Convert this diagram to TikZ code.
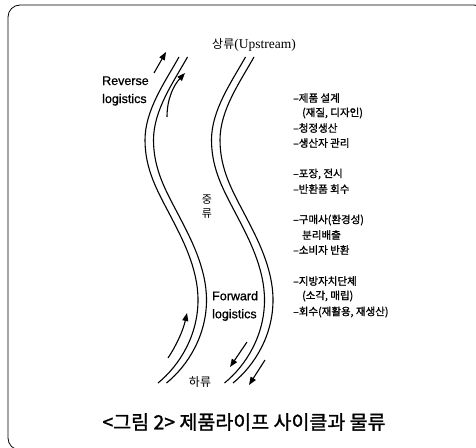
\documentclass[tikz,border=0pt]{standalone}
\usepackage{fontspec}
\setmainfont{Liberation Serif}
\newfontfamily\kr{Noto Sans CJK KR}
\newfontfamily\krm{Noto Sans CJK KR}[FakeBold=1.2]
\newfontfamily\krb{Noto Sans CJK KR}[FakeBold=1.3]
\newfontfamily\arialf{Liberation Sans}[FakeBold=0.8]
\usetikzlibrary{arrows.meta}
\begin{document}
\begin{tikzpicture}[x=1pt,y=-1pt,
  river/.style={line width=1.1pt},
  flow/.style={line width=1.1pt,-{Triangle[length=8pt,width=6pt]}},
  lab/.style={inner sep=0pt,font=\arialf\fontsize{12.5}{18}\selectfont,align=left},
  item/.style={inner sep=0pt,anchor=west,font=\krm\fontsize{10.5}{12}\selectfont}]
\useasboundingbox (0,0) rectangle (476,447);
\fill[white] (0,0) rectangle (476,447);
\draw[line width=0.8pt, rounded corners=12pt] (8,5) rectangle (486,450);
% river lines
\foreach \s in {0,8.5,66.5,75}{
  \begin{scope}[shift={(\s,0)}]
  \draw[river] (179,57) .. controls (165,82) and (145,110) .. (145,140)
     .. controls (145,170) and (158,192) .. (170,215)
     .. controls (182,238) and (198,268) .. (198,300)
     .. controls (198,335) and (180,365) .. (158,383);
  \end{scope}}
% arrow end points
\coordinate (a1s) at (154,73); \coordinate (a1e) at (166,52);
\coordinate (a2s) at (167,117); \coordinate (a2e) at (185,73);
\coordinate (a3s) at (168,358); \coordinate (a3e) at (187,313);
\coordinate (a4s) at (247,342); \coordinate (a4e) at (230,367);
\coordinate (a5s) at (265,360); \coordinate (a5e) at (249,385);
\draw[flow] (a1s) -- (a1e);
\draw[flow] (a2s) .. controls (167,98) and (174,85) .. (a2e);
\draw[flow] (a3s) .. controls (176,346) and (183,331) .. (a3e);
\draw[flow] (a4s) -- (a4e);
\draw[flow] (a5s) -- (a5e);
% labels
\node[inner sep=0pt] (up) at (254,45) {{\kr\fontsize{12}{14}\selectfont 상류}\fontsize{13.5}{15}\selectfont(Upstream)};
\node[lab,anchor=west] (rev) at (102,91) {Reverse\\logistics};
\node[lab,anchor=west] (fwd) at (212,306) {Forward\\logistics};
\node[inner sep=0pt,font=\kr\fontsize{11}{13}\selectfont] (mid1) at (207,200) {중};
\node[inner sep=0pt,font=\kr\fontsize{11}{13}\selectfont] (mid2) at (207,214) {류};
\node[inner sep=0pt,font=\kr\fontsize{12}{14}\selectfont] (down) at (200,382) {하류};
% list
\node[item] (l1) at (293,98) {–제품 설계};
\node[item] (l2) at (302,113) {(재질, 디자인)};
\node[item] (l3) at (293,128) {–청정생산};
\node[item] (l4) at (293,143) {–생산자 관리};
\node[item] (l5) at (293,174) {–포장, 전시};
\node[item] (l6) at (293,189) {–반환품 회수};
\node[item] (l7) at (293,220) {–구매사(환경성)};
\node[item] (l8) at (302,235) {분리배출};
\node[item] (l9) at (293,250) {–소비자 반환};
\node[item] (l10) at (293,281) {–지방자치단체};
\node[item] (l11) at (302,296) {(소각, 매립)};
\node[item] (l12) at (293,312) {–회수(재활용, 재생산)};
% caption
\node[inner sep=0pt,font=\krb\fontsize{19.5}{21}\selectfont] (cap) at (244,422) {<그림 2> 제품라이프 사이클과 물류};
\end{tikzpicture}
\end{document}
